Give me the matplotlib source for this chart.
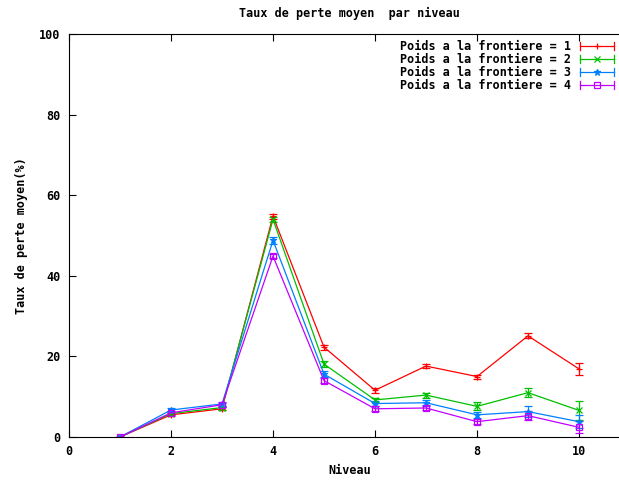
import matplotlib
matplotlib.use("Agg")
import matplotlib.pyplot as plt
from matplotlib.lines import Line2D
from matplotlib.legend_handler import HandlerBase

niveaux = [1, 2, 3, 4, 5, 6, 7, 8, 9, 10]
poids1 = [0, 5.5, 7.0, 54.8, 22.3, 11.6, 17.6, 15.0, 25.1, 16.9]
err1 = [0, 0.4, 0.4, 0.6, 0.6, 0.6, 0.4, 0.5, 0.6, 1.4]
poids2 = [0, 5.8, 7.3, 54.0, 18.1, 9.2, 10.4, 7.6, 11.0, 6.6]
err2 = [0, 0.4, 0.5, 0.6, 0.8, 0.6, 0.6, 1.0, 1.1, 2.4]
poids3 = [0, 6.7, 8.2, 48.8, 15.6, 8.3, 8.5, 5.5, 6.3, 3.8]
err3 = [0, 0.6, 0.6, 0.8, 0.8, 0.6, 0.6, 0.8, 1.3, 1.6]
poids4 = [0, 6.0, 8.0, 44.9, 14.0, 7.0, 7.2, 3.8, 5.3, 2.4]
err4 = [0, 0.5, 0.5, 0.6, 0.6, 0.6, 0.6, 0.6, 1.2, 1.5]
labels = ["Poids a la frontiere = 1", "Poids a la frontiere = 2",
          "Poids a la frontiere = 3", "Poids a la frontiere = 4"]
colors = ["#ff0000", "#00c000", "#0080ff", "#c000ff"]
markers = ["+", "x", "*", "s"]

FONT = dict(family="DejaVu Sans Mono", weight="bold", size=8.5)

fig = plt.figure(figsize=(6.19, 4.8), dpi=100)
ax = fig.add_axes([69/619, 43/480, (630-69)/619, (437-34)/480])

series = [(poids1, err1), (poids2, err2), (poids3, err3), (poids4, err4)]
handles = []
for (vals, errs), lab, col, mk in zip(series, labels, colors, markers):
    ax.errorbar(niveaux, vals, yerr=errs, color=col, lw=0.9, elinewidth=0.9,
                capsize=3, capthick=0.9, marker=mk, ms=5,
                mfc="none" if mk == "s" else col, mec=col, mew=0.9, label=lab)
    handles.append(Line2D([], [], color=col, marker=mk, mfc="none" if mk == "s" else col,
                          mec=col, lw=0.9, ms=5, mew=0.9))


class HBar(HandlerBase):
    def create_artists(self, legend, orig, xd, yd, width, height, fontsize, trans):
        y = height / 2 - yd
        x0, x1 = -xd, width - xd
        col = orig.get_color()
        line = Line2D([x0, x1], [y, y], color=col, lw=0.9)
        c1 = Line2D([x0, x0], [y - 3, y + 3], color=col, lw=0.9)
        c2 = Line2D([x1, x1], [y - 3, y + 3], color=col, lw=0.9)
        m = Line2D([(x0 + x1) / 2], [y], marker=orig.get_marker(), color=col,
                   mfc=orig.get_markerfacecolor(), mec=col, ms=5, mew=0.9, lw=0)
        arts = [line, c1, c2, m]
        for a in arts:
            a.set_transform(trans)
        return arts


leg = ax.legend(handles, labels, handler_map={Line2D: HBar()}, loc="upper right",
                frameon=False, prop=FONT, markerfirst=False, handlelength=2.9,
                handletextpad=0.75, labelspacing=0.0, handleheight=0.7,
                borderaxespad=0.0, borderpad=0.0)
leg.set_bbox_to_anchor((614/619, 1 - 40/480), transform=fig.transFigure)

ax.set_xlim(0, 11)
ax.set_ylim(0, 100)
ax.set_xticks([0, 2, 4, 6, 8, 10])
ax.set_yticks([0, 20, 40, 60, 80, 100])
ax.tick_params(direction="in", length=5, width=0.8, top=True, right=False, pad=6)
for t in ax.get_xticklabels() + ax.get_yticklabels():
    t.set_fontfamily("DejaVu Sans Mono")
    t.set_fontweight("bold")
    t.set_fontsize(8.5)
ax.spines["right"].set_visible(False)
for s in ["left", "top", "bottom"]:
    ax.spines[s].set_linewidth(0.8)

ax.set_title("Taux de perte moyen  par niveau", fontdict=FONT, pad=12)
ax.set_xlabel("Niveau", fontdict=FONT, labelpad=4)
ax.set_ylabel("Taux de perte moyen(%)", fontdict=FONT, labelpad=8)

fig.savefig("out.png", dpi=100)
